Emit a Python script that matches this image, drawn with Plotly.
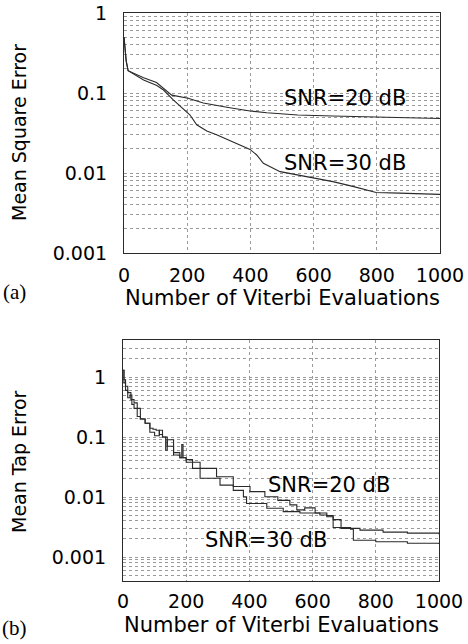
import plotly.graph_objects as go
import math

# ---------------- data ----------------
# (a) Mean Square Error vs number of Viterbi evaluations
mse_x_20 = [0, 3, 7, 13, 30, 62, 103, 125, 151, 203, 251, 330, 399, 452, 550, 661, 750, 819, 900, 1000]
mse_y_20 = [0.50, 0.35, 0.25, 0.19, 0.177, 0.155, 0.135, 0.114, 0.094, 0.086, 0.075, 0.066, 0.0596, 0.0566, 0.053, 0.0516, 0.0505, 0.0495, 0.0485, 0.048]
mse_x_30 = [0, 3, 7, 13, 30, 62, 104, 125, 156, 193, 209, 230, 262, 293, 330, 367, 399, 420, 441, 494, 557, 661, 724, 766, 798, 871, 1000]
mse_y_30 = [0.50, 0.35, 0.25, 0.19, 0.172, 0.145, 0.124, 0.109, 0.082, 0.061, 0.053, 0.040, 0.0335, 0.030, 0.026, 0.0224, 0.0197, 0.0168, 0.0132, 0.0104, 0.0093, 0.0078, 0.0068, 0.0061, 0.0057, 0.0056, 0.0054]

# (b) Mean Tap Error vs number of Viterbi evaluations
tap_x_20 = [0, 3, 8, 15, 22, 28, 35, 45, 55, 70, 85, 95, 105, 115, 125, 140, 160, 180, 186, 190, 200,
            244, 296, 349, 402, 449, 490, 528, 550, 575, 608, 645, 665, 690, 750, 823, 900, 1000]
tap_y_20 = [1.3, 0.9, 0.6, 0.45, 0.5, 0.35, 0.30, 0.22, 0.20, 0.17, 0.14, 0.135, 0.13, 0.11, 0.10, 0.07, 0.055, 0.045, 0.075, 0.045, 0.038,
            0.030, 0.0218, 0.015, 0.0123, 0.0101, 0.0088, 0.0074, 0.0061, 0.0066, 0.0054, 0.0047, 0.0042, 0.0030, 0.0028, 0.0026, 0.0025, 0.0024]
tap_x_30 = [0, 3, 8, 15, 25, 35, 45, 55, 70, 85, 100, 115, 125, 135, 140, 160, 180, 200, 220,
            244, 307, 349, 381, 391, 455, 507, 560, 623, 645, 665, 720, 729, 800, 900, 1000]
tap_y_30 = [1.3, 0.8, 0.7, 0.55, 0.42, 0.37, 0.30, 0.20, 0.17, 0.12, 0.105, 0.13, 0.10, 0.06, 0.09, 0.05, 0.045, 0.042, 0.030,
            0.0205, 0.0158, 0.0129, 0.0101, 0.0078, 0.0065, 0.0057, 0.0054, 0.0050, 0.0049, 0.0031, 0.0029, 0.0019, 0.0018, 0.0017, 0.00165]

x_ticks = [0, 200, 400, 600, 800, 1000]
y_major = [0.001, 0.01, 0.1, 1]
y_major_labels = ["0.001", "0.01", "0.1", "1"]

# ---------------- figure ----------------
W, H = 468, 644
FONT = "DejaVu Sans"
LINE = "#2a2a2a"
GRID = "#9a9a9a"

fig = go.Figure()

fig.add_trace(go.Scatter(x=mse_x_20, y=mse_y_20, mode="lines", line=dict(color=LINE, width=1.1), xaxis="x", yaxis="y"))
fig.add_trace(go.Scatter(x=mse_x_30, y=mse_y_30, mode="lines", line=dict(color=LINE, width=1.1), xaxis="x", yaxis="y"))
fig.add_trace(go.Scatter(x=tap_x_20, y=tap_y_20, mode="lines", line=dict(color=LINE, width=1.1, shape="hv"), xaxis="x2", yaxis="y2"))
fig.add_trace(go.Scatter(x=tap_x_30, y=tap_y_30, mode="lines", line=dict(color=LINE, width=1.1, shape="hv"), xaxis="x2", yaxis="y2"))


def log_ticks(lo_dec, hi_dec):
    vals, texts = [], []
    for d in range(lo_dec, hi_dec + 1):
        for m in range(1, 10):
            v = m * 10 ** d
            vals.append(v)
            if m == 1 and v in y_major:
                texts.append(y_major_labels[y_major.index(v)])
            else:
                texts.append("")
    return vals, texts


def xaxis_cfg(anchor, domain, standoff):
    return dict(domain=domain, anchor=anchor, range=[0, 1000], tickvals=x_ticks,
                ticktext=[str(v) for v in x_ticks], showgrid=True, gridcolor=GRID,
                griddash="dot", gridwidth=1, zeroline=False, showline=True, linecolor=LINE,
                linewidth=1.2, mirror=True, ticks="", ticklabelstandoff=standoff, automargin=False,
                tickfont=dict(family=FONT, size=19, color="black"))


def yaxis_cfg(anchor, domain, rng, lo, hi):
    vals, texts = log_ticks(lo, hi)
    return dict(domain=domain, anchor=anchor, type="log", range=rng, tickvals=vals,
                ticktext=texts, showgrid=True, gridcolor=GRID, griddash="dot", gridwidth=1,
                zeroline=False, showline=True, linecolor=LINE, linewidth=1.2, mirror=True,
                ticks="", ticklabelstandoff=12, automargin=False,
                tickfont=dict(family=FONT, size=19, color="black"))


def px_x(p):
    return p / W


def px_y(p):
    return 1 - p / H


fig.update_layout(
    width=W, height=H, margin=dict(l=0, r=0, t=0, b=0),
    paper_bgcolor="white", plot_bgcolor="white", showlegend=False,
    xaxis=xaxis_cfg("y", [px_x(124), px_x(440)], 5),
    yaxis=yaxis_cfg("x", [px_y(253), px_y(13)], [-3, 0], -3, 0),
    xaxis2=xaxis_cfg("y2", [px_x(123), px_x(439)], 3),
    yaxis2=yaxis_cfg("x2", [px_y(581), px_y(340)], [-3.4, 0.617], -4, 0),
)


def label(text, x, y, size, family=FONT, angle=0, xref="paper", yref="paper"):
    return dict(text=text, x=x, y=y, xref=xref, yref=yref, showarrow=False, textangle=angle,
                xanchor="center", yanchor="middle", font=dict(family=family, size=size, color="black"))


ann = [
    label("Number of Viterbi Evaluations", px_x(282), px_y(298), 21),
    label("Number of Viterbi Evaluations", px_x(281), px_y(625), 21),
    label("Mean Square Error", px_x(19), px_y(133), 19, angle=-90),
    label("Mean Tap Error", px_x(19), px_y(462), 19, angle=-90),
    label("(a)", px_x(15), px_y(292), 21, family="Liberation Serif"),
    label("(b)", px_x(15), px_y(628), 21, family="Liberation Serif"),
    label("SNR=20 dB", 699, math.log10(0.0866), 21, xref="x", yref="y"),
    label("SNR=30 dB", 699, math.log10(0.0133), 21, xref="x", yref="y"),
    label("SNR=20 dB", 653, math.log10(0.0158), 21, xref="x2", yref="y2"),
    label("SNR=30 dB", 451, math.log10(0.00192), 21, xref="x2", yref="y2"),
]
fig.update_layout(annotations=ann)

fig.write_html("out.html")
